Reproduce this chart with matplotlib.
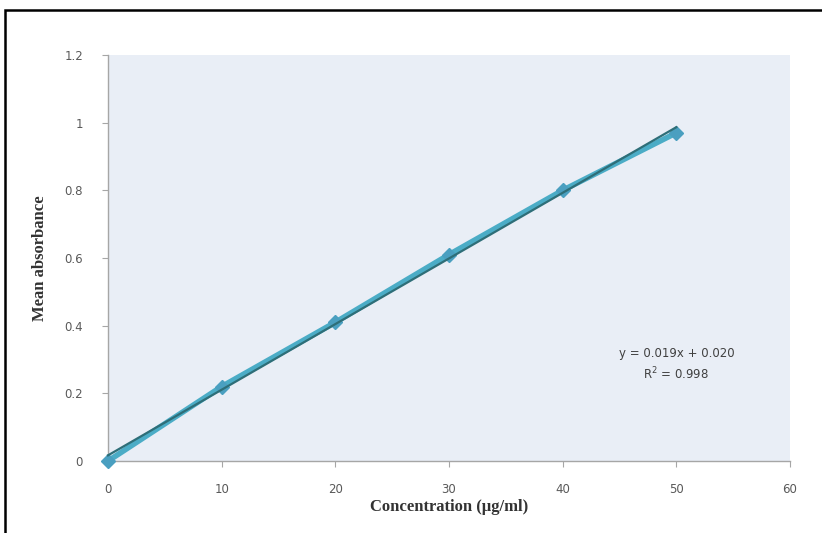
import matplotlib
matplotlib.use("Agg")
import matplotlib.pyplot as plt
from matplotlib.patches import Rectangle
import numpy as np

concentration = [0, 10, 20, 30, 40, 50]
absorbance = [0.0, 0.22, 0.41, 0.61, 0.80, 0.97]
x_ticks = [0, 10, 20, 30, 40, 50, 60]
y_ticks = [0, 0.2, 0.4, 0.6, 0.8, 1.0, 1.2]
y_tick_labels = ["0", "0.2", "0.4", "0.6", "0.8", "1", "1.2"]
equation_text = "y = 0.019x + 0.020\nR$^2$ = 0.998"

fig = plt.figure(figsize=(8.22, 5.33), dpi=100)
fig.patch.set_facecolor("white")
fig.patches.append(Rectangle((5/822, -0.1), 1.2, (533-10)/533 + 0.1, transform=fig.transFigure,
                             fill=False, edgecolor="black", linewidth=1.8))

ax = fig.add_axes([108/822, (533-461)/533, (790-108)/822, (461-55)/533])
ax.set_facecolor("#E9EEF6")

ax.plot(concentration, absorbance, color="#4BACC6", lw=4, marker="D", markersize=7,
        markerfacecolor="#4A9FC0", markeredgecolor="#4A9FC0", zorder=3, clip_on=False)
coef = np.polyfit(concentration, absorbance, 1)
xf = np.array([concentration[0], concentration[-1]], dtype=float)
ax.plot(xf, np.polyval(coef, xf), color="#2E6E78", lw=1.6, zorder=4, clip_on=False)

ax.set_xlim(0, 60)
ax.set_ylim(0, 1.2)
ax.set_xticks(x_ticks)
ax.set_yticks(y_ticks)
ax.set_yticklabels(y_tick_labels)
for s in ["top", "right"]:
    ax.spines[s].set_visible(False)
for s in ["left", "bottom"]:
    ax.spines[s].set_color("#A6A6A6")
    ax.spines[s].set_linewidth(1.0)
ax.tick_params(axis="both", direction="out", length=4, color="#A6A6A6",
               labelsize=8.5, labelcolor="#595959", pad=12)
ax.tick_params(axis="y", pad=14)

ax.set_xlabel("Concentration (µg/ml)", fontfamily="Liberation Serif", fontweight="bold",
              fontsize=12, color="#333333", labelpad=2)
ax.set_ylabel("Mean absorbance", fontfamily="Liberation Serif", fontweight="bold",
              fontsize=12, color="#333333", labelpad=12)

ax.text(50, 0.285, equation_text, ha="center", va="center", fontsize=8.5,
        color="#404040", linespacing=1.4)

fig.savefig("out.png", dpi=100)
